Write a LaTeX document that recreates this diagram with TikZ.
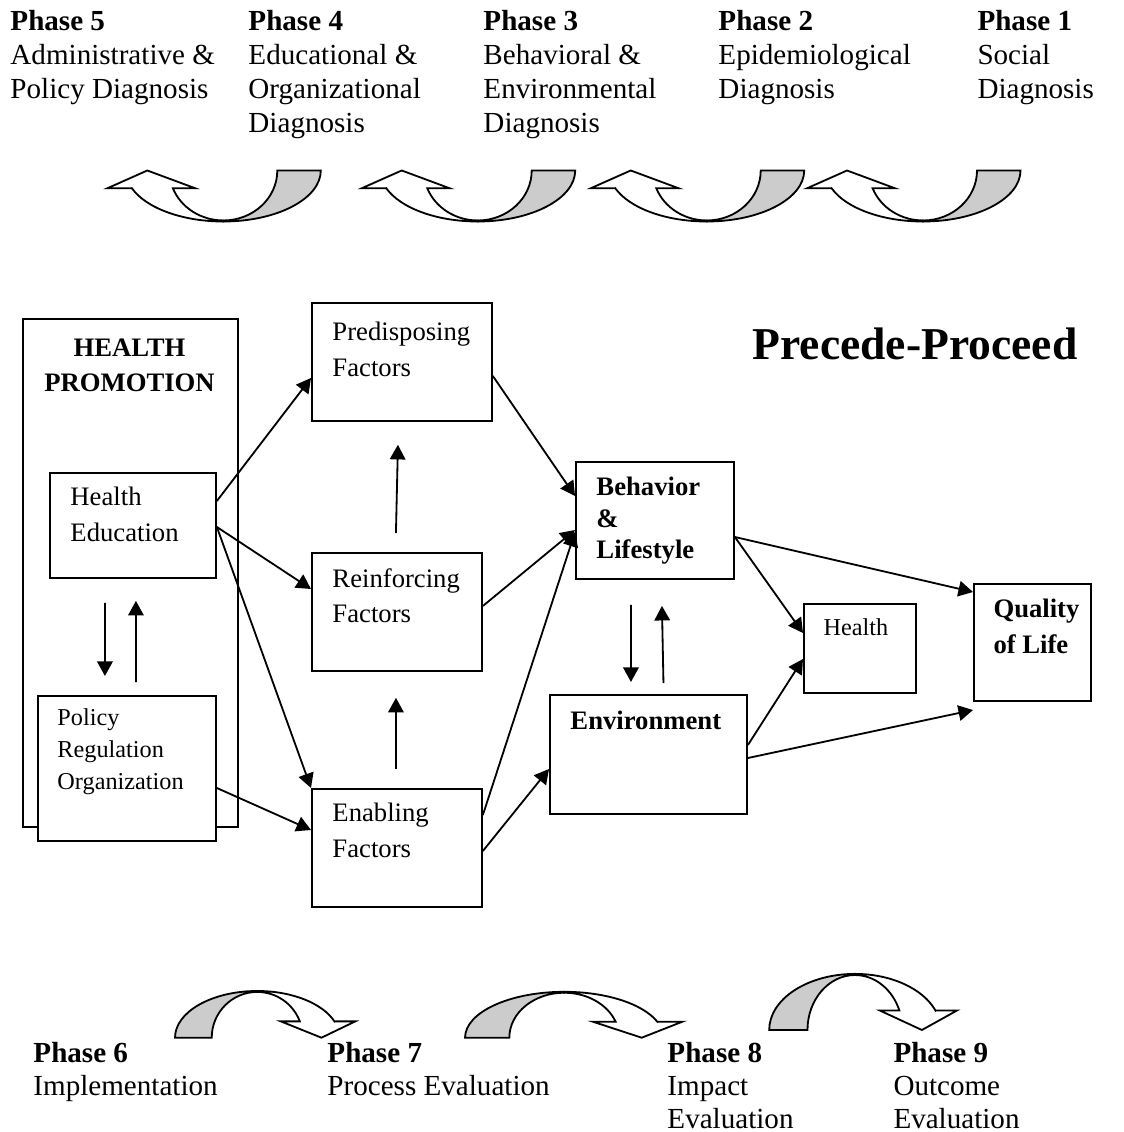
\documentclass[tikz,border=0pt]{standalone}
\usepackage{fontspec}
\setmainfont{Liberation Serif}
\usetikzlibrary{arrows.meta,calc}

\tikzset{
  box/.style={draw, line width=0.75pt, fill=white, anchor=north west, inner sep=0pt},
  boxtext/.style={anchor=north west, align=left, inner sep=0pt, font=\fontsize{11}{14.5}\selectfont},
  smalltext/.style={anchor=north west, align=left, inner sep=0pt, font=\fontsize{10}{13.2}\selectfont},
  phasetext/.style={anchor=north west, align=left, inner sep=0pt, font=\fontsize{12}{14}\selectfont},
  conn/.style={line width=0.75pt, -{Triangle[length=6pt, width=6.4pt]}},
  pics/phasearrow/.style={code={
    \draw[line width=0.75pt, fill=gray!40] (54,0) -- (97.5,0)
      arc[start angle=0, end angle=-90, x radius=97.5, y radius=51]
      -- (0,-50) arc[start angle=-90, end angle=0, x radius=54, y radius=50] -- cycle;
    \draw[line width=0.75pt, fill=white] (-91.4,-17.8) -- (-116,-17.8) -- (-76,0) -- (-28,-17.8) -- (-50.4,-17.8)
      arc[start angle=200.9, end angle=270, x radius=54, y radius=50]
      -- (0,-51) arc[start angle=270, end angle=200.4, x radius=97.5, y radius=51] -- cycle;
  }}
}

\begin{document}
\begin{tikzpicture}[x=0.0145cm, y=0.0145cm]
\useasboundingbox (0,0) rectangle (1123,-1132);

% phase labels, top row
\node[phasetext] (ph5) at (10,-10) {\textbf{Phase 5}\\Administrative \&\\Policy Diagnosis};
\node[phasetext] (ph4) at (248,-10) {\textbf{Phase 4}\\Educational \&\\Organizational\\Diagnosis};
\node[phasetext] (ph3) at (483,-10) {\textbf{Phase 3}\\Behavioral \&\\Environmental\\Diagnosis};
\node[phasetext] (ph2) at (718,-10) {\textbf{Phase 2}\\Epidemiological\\Diagnosis};
\node[phasetext] (ph1) at (977,-10) {\textbf{Phase 1}\\Social\\Diagnosis};

% curved arrows
\pic at (223.3,-170.5) {phasearrow};
\pic at (477.7,-170.5) {phasearrow};
\pic at (706.7,-170.5) {phasearrow};
\pic at (923,-170.5) {phasearrow};
\pic[xscale=-0.844, yscale=-0.916] at (257.3,-1037.7) {phasearrow};
\pic[xscale=-1.018, yscale=-0.9] at (564.3,-1037.7) {phasearrow};
\pic[xscale=-0.88, yscale=-1.1] at (855,-1030) {phasearrow};

% boxes
\node[box, minimum width=3.118cm, minimum height=7.366cm] (hp) at (22,-318) {};
\node[anchor=north, align=center, inner sep=0pt, font=\fontsize{11}{14.5}\bfseries] (hptext) at (129.5,-338) {HEALTH\\PROMOTION};
\node[box, minimum width=2.407cm, minimum height=1.523cm] (he) at (49,-472) {};
\node[boxtext] (hetext) at (70,-487) {Health\\Education};
\node[box, minimum width=2.581cm, minimum height=2.103cm] (pol) at (37,-695) {};
\node[smalltext] (poltext) at (57,-708) {Policy\\Regulation\\Organization};

\node[box, minimum width=2.61cm, minimum height=1.711cm] (pred) at (311,-302) {};
\node[boxtext] (predtext) at (332,-322) {Predisposing\\Factors};
\node[box, minimum width=2.465cm, minimum height=1.711cm] (reinf) at (311,-552) {};
\node[boxtext] (reinftext) at (332,-568) {Reinforcing\\Factors};
\node[box, minimum width=2.465cm, minimum height=1.711cm] (enab) at (311,-788) {};
\node[boxtext] (enabtext) at (332,-803) {Enabling\\Factors};

\node[box, minimum width=2.291cm, minimum height=1.697cm] (behav) at (575,-461) {};
\node[boxtext, font=\fontsize{11}{12.8}\bfseries] (behavtext) at (596,-477) {Behavior\\\&\\Lifestyle};
\node[box, minimum width=2.857cm, minimum height=1.726cm] (env) at (549,-694) {};
\node[boxtext, font=\fontsize{11}{14.5}\bfseries] (envtext) at (570,-711) {Environment};
\node[box, minimum width=1.624cm, minimum height=1.291cm] (health) at (803,-603) {};
\node[smalltext] (healthtext) at (823,-618) {Health};
\node[box, minimum width=1.697cm, minimum height=1.697cm] (qol) at (973,-583) {};
\node[boxtext, font=\fontsize{11}{14.5}\bfseries] (qoltext) at (993,-599) {Quality\\of Life};

\node[inner sep=0pt, font=\fontsize{18.8}{22}\bfseries] (title) at (915,-344) {Precede-Proceed};

% connectors
\draw[conn] (he.east |- 0,-501) -- (pred.west |- 0,-378);
\draw[conn] (he.east |- 0,-527) -- (reinf.west |- 0,-589);
\draw[conn] (he.east |- 0,-527) -- (enab.north west);
\draw[conn] (pol.east |- 0,-788) -- (enab.west |- 0,-830);
\draw[conn] ($(he.south)+(-28,-24)$) -- ($(pol.north)+(-22,19)$);
\draw[conn] ($(pol.north)+(9,13)$) -- ($(he.south)+(3,-22)$);
\draw[conn] ($(reinf.north)+(-1,19)$) -- ($(pred.south)+(-4,-23)$);
\draw[conn] ($(enab.north)+(-1,19)$) -- ($(reinf.south)+(-1,-26)$);
\draw[conn] (pred.east |- 0,-376) -- (behav.west |- 0,-496);
\draw[conn] (reinf.east |- 0,-606) -- (behav.west |- 0,-530);
\draw[conn] (enab.east |- 0,-815) -- (behav.west |- 0,-532);
\draw[conn] (enab.east |- 0,-851) -- (env.west |- 0,-769);
\draw[conn] ($(behav.south)+(-24,-25)$) -- ($(env.north)+(-17.5,12)$);
\draw[conn] ($(env.north)+(15,11)$) -- ($(behav.south)+(7,-26)$);
\draw[conn] (behav.east |- 0,-537) -- (health.west |- 0,-633);
\draw[conn] (env.east |- 0,-745) -- (health.west |- 0,-659);
\draw[conn] (behav.east |- 0,-537) -- (qol.west |- 0,-592);
\draw[conn] (env.east |- 0,-758) -- (qol.west |- 0,-710);

% phase labels, bottom row
\node[phasetext, font=\fontsize{12}{13.5}\selectfont] (ph6) at (33,-1042) {\textbf{Phase 6}\\Implementation};
\node[phasetext, font=\fontsize{12}{13.5}\selectfont] (ph7) at (327,-1042) {\textbf{Phase 7}\\Process Evaluation};
\node[phasetext, font=\fontsize{12}{13.5}\selectfont] (ph8) at (667,-1042) {\textbf{Phase 8}\\Impact\\Evaluation};
\node[phasetext, font=\fontsize{12}{13.5}\selectfont] (ph9) at (893,-1042) {\textbf{Phase 9}\\Outcome\\Evaluation};
\end{tikzpicture}
\end{document}
